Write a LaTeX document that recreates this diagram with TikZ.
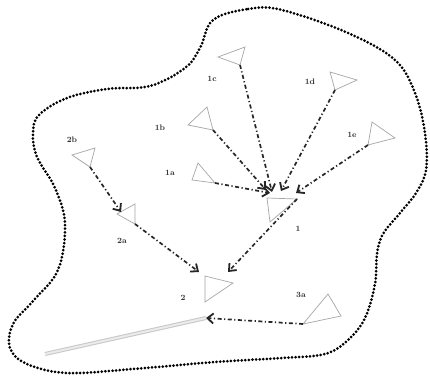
\documentclass[tikz,border=0pt]{standalone}
\usetikzlibrary{arrows.meta}
\begin{document}
\begin{tikzpicture}[x=1pt,y=-1pt,
  outline/.style={line width=3pt,line cap=round,dash pattern=on 0pt off 3.6pt,black},
  tri/.style={draw=black!35,line width=0.7pt},
  flow/.style={line width=1.7pt,black!85,dash pattern=on 4pt off 2.5pt on 1.2pt off 2.5pt,
    -{Straight Barb[length=6pt,width=10pt,line width=1.8pt]}},
  lbl/.style={font=\fontsize{8}{9}\selectfont\bfseries,text=black!80,inner sep=0pt},
  trail/.style={draw=black!22,line width=1pt,double=black!8,double distance=2pt}]
\useasboundingbox (0,0) rectangle (430,382);
\fill[white] (0,0) rectangle (430,382);
% outline
\draw[outline] plot[smooth cycle,tension=0.6] coordinates {
 (213,20) (248,9) (282,10) (348,33) (395,60) (415,93) (425,133) (426,170)
 (416,193) (400,213) (383,234) (377,254) (375,284) (365,318) (348,340)
 (325,354) (282,358) (215,362) (133,369) (67,373) (27,364) (10,348)
 (13,324) (33,301) (58,270) (65,224) (55,188) (37,157) (33,133) (39,115)
 (67,98) (107,89) (150,86) (185,68) (200,48)};
% triangles
\coordinate (c1) at (218,57); \coordinate (c2) at (245,47); \coordinate (c3) at (240,65);
\coordinate (d1) at (330,72); \coordinate (d2) at (357,80); \coordinate (d3) at (335,90);
\coordinate (e1) at (372,122); \coordinate (e2) at (395,138); \coordinate (e3) at (368,145);
\coordinate (b1) at (207,107); \coordinate (b2) at (188,125); \coordinate (b3) at (213,130);
\coordinate (a1) at (198,163); \coordinate (a2) at (192,180); \coordinate (a3) at (215,183);
\coordinate (tb1) at (95,148); \coordinate (tb2) at (72,155); \coordinate (tb3) at (90,167);
\coordinate (ta1) at (135,204); \coordinate (ta2) at (117,214); \coordinate (ta3) at (135,224);
\coordinate (o1) at (267,198); \coordinate (o2) at (297,199); \coordinate (o3) at (270,222);
\coordinate (w1) at (205,276); \coordinate (w2) at (233,283); \coordinate (w3) at (205,302);
\coordinate (s1) at (303,324); \coordinate (s2) at (328,294); \coordinate (s3) at (341,316);
\foreach \p in {c,d,e,b,a,tb,ta,o,w,s}{\draw[tri] (\p1)--(\p2)--(\p3)--cycle;}
% targets
\coordinate (h1) at (266,190);
\coordinate (h2) at (272,192);
\coordinate (h3) at (281,191);
\coordinate (h4) at (296,193);
\coordinate (h5) at (270,193);
\coordinate (in2a) at (199,272);
\coordinate (in1) at (228,272);
\coordinate (in3) at (206,318);
\coordinate (in2b) at (121,212);
\coordinate (tailend) at (45,354);
% trail
\draw[trail] (in3) -- (tailend);
% flows
\draw[flow] (c3) -- (h2);
\draw[flow] (d3) -- (h3);
\draw[flow] (e3) -- (h4);
\draw[flow] (b3) -- (h1);
\draw[flow] (a3) -- (h5);
\draw[flow] (o2) -- (in1);
\draw[flow] (ta3) -- (in2a);
\draw[flow] (tb3) -- (in2b);
\draw[flow] (s1) -- (in3);
% labels
\node[lbl] (l1c) at (212,79) {1c};
\node[lbl] (l1d) at (310,82) {1d};
\node[lbl] (l1e) at (352,135) {1e};
\node[lbl] (l1b) at (160,128) {1b};
\node[lbl] (l1a) at (170,173) {1a};
\node[lbl] (l2b) at (72,140) {2b};
\node[lbl] (l2a) at (122,241) {2a};
\node[lbl] (l1) at (298,229) {1};
\node[lbl] (l2) at (183,298) {2};
\node[lbl] (l3a) at (301,295) {3a};
\end{tikzpicture}
\end{document}
